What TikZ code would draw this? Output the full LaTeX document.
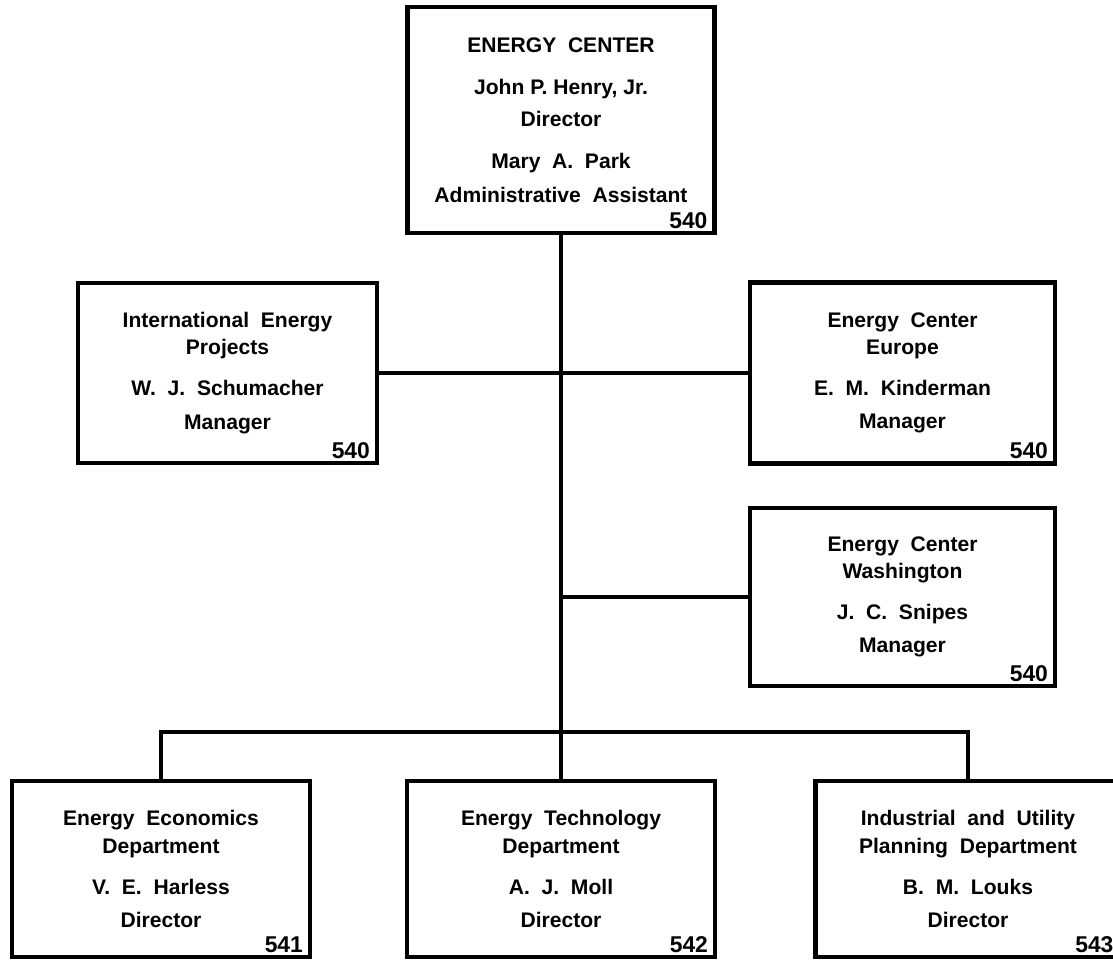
\documentclass[tikz,border=0pt]{standalone}
\usepackage{fontspec}
\setmainfont{Liberation Sans}
\usetikzlibrary{positioning}
\tikzstyle{office} = [draw, line width=2.6pt, align=center, inner sep=0pt, font=\bfseries\fontsize{12}{15.4}\selectfont]
\tikzstyle{room} = [inner sep=0pt, font=\bfseries\fontsize{13}{15}\selectfont]
\tikzstyle{link} = [draw, line width=2pt]

\begin{document}
\begin{tikzpicture}[x=0.02cm, y=-0.02cm]
	\useasboundingbox (0,0) rectangle (1113,960);
	\node[office, minimum width=6.14cm, minimum height=4.52cm] (center) at (561,120) {ENERGY\ \ CENTER\\[8.5pt] John P. Henry, Jr.\\[3pt] Director\\[8.5pt] Mary\ \ A.\ \ Park\\[4pt] Administrative\ \ Assistant};
	\node[office, minimum width=5.98cm, minimum height=3.6cm] (intlProjects) at (227.5,373) {International\ \ Energy\\ Projects\\[8pt] W.\ \ J.\ \ Schumacher\\[3.4pt] Manager};
	\node[office, minimum width=6.1cm, minimum height=3.62cm] (europe) at (902.5,373) {Energy\ \ Center\\ Europe\\[8pt] E.\ \ M.\ \ Kinderman\\[3.4pt] Manager};
	\node[office, minimum width=6.1cm, minimum height=3.56cm] (washington) at (902.5,597) {Energy\ \ Center\\ Washington\\[8pt] J.\ \ C.\ \ Snipes\\[3.4pt] Manager};
	\node[office, minimum width=5.96cm, minimum height=3.52cm] (economics) at (161,869) {Energy\ \ Economics\\ Department\\[8pt] V.\ \ E.\ \ Harless\\[3.4pt] Director};
	\node[office, minimum width=6.16cm, minimum height=3.52cm] (technology) at (561,869) {Energy\ \ Technology\\ Department\\[8pt] A.\ \ J.\ \ Moll\\[3.4pt] Director};
	\node[office, minimum width=6.1cm, minimum height=3.52cm] (planning) at (968,869) {Industrial\ \ and\ \ Utility\\ Planning\ \ Department\\[8pt] B.\ \ M.\ \ Louks\\[3.4pt] Director};
	
	\node[room, above left = 0.13cm and 0.18cm of center.south east] (centerRoom) {540};
	\node[room, above left = 0.13cm and 0.18cm of intlProjects.south east] (intlRoom) {540};
	\node[room, above left = 0.13cm and 0.18cm of europe.south east] (europeRoom) {540};
	\node[room, above left = 0.13cm and 0.18cm of washington.south east] (washingtonRoom) {540};
	\node[room, above left = 0.13cm and 0.18cm of economics.south east] (economicsRoom) {541};
	\node[room, above left = 0.13cm and 0.18cm of technology.south east] (technologyRoom) {542};
	\node[room, above left = 0.13cm and 0.18cm of planning.south east] (planningRoom) {543};
	
	\coordinate (bus) at (561,732);
	
	\path[link] (center.south) -- (technology.north);
	\path[link] (intlProjects) -- (europe);
	\path[link] (washington.west) -- (washington.west -| center.south);
	\path[link] (economics.north) |- (bus) -| (planning.north);
\end{tikzpicture}
\end{document}
